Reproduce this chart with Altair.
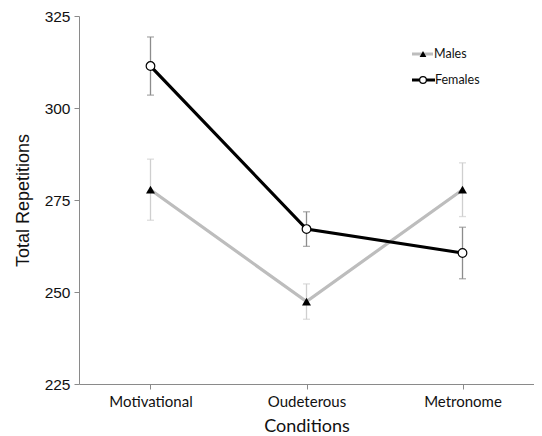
import altair as alt
import pandas as pd

conditions = ["Motivational", "Oudeterous", "Metronome"]
males_mean = [277.8, 247.4, 277.8]
males_err = [8.3, 4.8, 7.3]
females_mean = [311.4, 267.1, 260.6]
females_err = [7.9, 4.7, 7.0]

rows = []
for c, m, e in zip(conditions, males_mean, males_err):
    rows.append({"cond": c, "series": "Males", "mean": m, "lo": m - e, "hi": m + e})
for c, m, e in zip(conditions, females_mean, females_err):
    rows.append({"cond": c, "series": "Females", "mean": m, "lo": m - e, "hi": m + e})
df = pd.DataFrame(rows)

xenc = alt.X("cond:N", sort=conditions,
             scale=alt.Scale(type="point", padding=0.4583),
             axis=alt.Axis(title="Conditions", labelAngle=0, labelFont="Lato",
                           labelFontSize=15, labelColor="#111", labelPadding=5,
                           titleFont="Lato", titleFontSize=18, titleFontWeight="normal",
                           titleColor="#111", titlePadding=8,
                           domainColor="#8a8a8a", tickColor="#8a8a8a", tickSize=5,
                           grid=False))
yscale = alt.Scale(domain=[225, 325], nice=False, zero=False)
yenc = alt.Y("mean:Q", scale=yscale,
             axis=alt.Axis(title="Total Repetitions", values=[225, 250, 275, 300, 325],
                           labelFont="Liberation Sans", labelFontSize=15.5, labelColor="#111",
                           labelPadding=4, titleFont="Liberation Sans", titleFontSize=18,
                           titleFontWeight="normal", titleColor="#111", titlePadding=12,
                           domainColor="#8a8a8a", tickColor="#8a8a8a", tickSize=5,
                           grid=False))

base = alt.Chart(df)
errcolor = alt.Color("series:N", scale=alt.Scale(domain=["Males", "Females"],
                                                  range=["#cfcfcf", "#8c8c8c"]), legend=None)

err_rule = base.mark_rule(strokeWidth=1.3).encode(
    x=xenc, y=alt.Y("lo:Q", scale=yscale), y2="hi:Q", color=errcolor)
err_caps = base.transform_fold(["lo", "hi"], as_=["k", "v"]).mark_tick(
    orient="horizontal", size=7, thickness=1.3).encode(
    x=xenc, y=alt.Y("v:Q", scale=yscale), color=errcolor)

males = base.transform_filter(alt.datum.series == "Males")
females = base.transform_filter(alt.datum.series == "Females")

m_line = males.mark_line(color="#bdbdbd", strokeWidth=3.2).encode(x=xenc, y=yenc)
m_pts = males.mark_point(shape="triangle-up", filled=True, color="#000", size=80,
                         opacity=1).encode(x=xenc, y=yenc)
f_line = females.mark_line(color="#000", strokeWidth=3.2).encode(x=xenc, y=yenc)
f_pts = females.mark_point(shape="circle", filled=True, fill="#fff", stroke="#000",
                           strokeWidth=1.2, size=75, opacity=1).encode(x=xenc, y=yenc)

# manual legend
leg = alt.Chart(pd.DataFrame({"a": [0]}))
lg_m_line = leg.mark_rule(color="#bdbdbd", strokeWidth=3).encode(
    x=alt.value(333), x2=alt.value(354), y=alt.value(38))
lg_m_pt = leg.mark_point(shape="triangle-up", filled=True, color="#000", size=45,
                         opacity=1).encode(x=alt.value(344), y=alt.value(38))
lg_m_txt = leg.mark_text(text="Males", align="left", baseline="middle", font="Lato",
                         fontSize=12.5, color="#111").encode(x=alt.value(355), y=alt.value(38))
lg_f_line = leg.mark_rule(color="#000", strokeWidth=3).encode(
    x=alt.value(333), x2=alt.value(356), y=alt.value(64))
lg_f_pt = leg.mark_point(shape="circle", filled=True, fill="#fff", stroke="#000",
                         strokeWidth=1.2, size=45, opacity=1).encode(x=alt.value(344), y=alt.value(64))
lg_f_txt = leg.mark_text(text="Females", align="left", baseline="middle", font="Lato",
                         fontSize=12.5, color="#111").encode(x=alt.value(356), y=alt.value(64))

chart = alt.layer(err_rule, err_caps, m_line, f_line, m_pts, f_pts,
                  lg_m_line, lg_m_pt, lg_m_txt, lg_f_line, lg_f_pt, lg_f_txt).properties(
    width=455, height=368,
    autosize=alt.AutoSizeParams(type="none"),
    padding={"left": 71, "top": 8, "right": 0, "bottom": 52},
    background="white",
).configure_view(stroke=None)

chart.save("out.html", embed_options={"renderer": "svg", "actions": False})
